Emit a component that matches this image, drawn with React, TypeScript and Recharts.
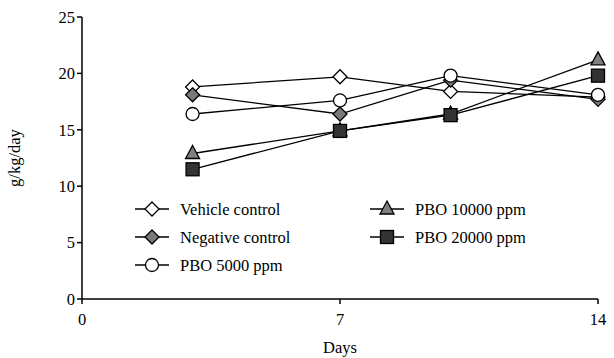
import { CartesianGrid, Label, Legend, Line, LineChart, XAxis, YAxis } from "recharts";

const DAYS = [3, 7, 10, 14];
const VEHICLE = [18.8, 19.7, 18.4, 17.9];
const NEGATIVE = [18.1, 16.4, 19.4, 17.7];
const PBO_5000 = [16.4, 17.6, 19.8, 18.1];
const PBO_10000 = [12.9, 14.9, 16.4, 21.2];
const PBO_20000 = [11.5, 14.9, 16.3, 19.8];

const X_TICKS = [0, 7, 14];
const Y_TICKS = [0, 5, 10, 15, 20, 25];

const SERIES = [
  { key: "vehicle", name: "Vehicle control", shape: "diamond", fill: "#ffffff", values: VEHICLE },
  { key: "negative", name: "Negative control", shape: "diamond", fill: "#7a7a7a", values: NEGATIVE },
  { key: "pbo5000", name: "PBO 5000 ppm", shape: "circle", fill: "#ffffff", values: PBO_5000 },
  { key: "pbo10000", name: "PBO 10000 ppm", shape: "triangle", fill: "#808080", values: PBO_10000 },
  { key: "pbo20000", name: "PBO 20000 ppm", shape: "square", fill: "#333333", values: PBO_20000 },
];

const data = DAYS.map((day, i) => {
  const row: Record<string, number> = { day };
  SERIES.forEach((s) => (row[s.key] = s.values[i]));
  return row;
});

const FONT = "'Liberation Serif', 'Times New Roman', serif";
const FS = 16.5;

function Marker({ shape, fill, cx, cy }: { shape: string; fill: string; cx: number; cy: number }) {
  const common = { fill, stroke: "#000", strokeWidth: 1.3 };
  if (shape === "diamond") {
    const r = 7;
    return <polygon points={`${cx},${cy - r} ${cx + r},${cy} ${cx},${cy + r} ${cx - r},${cy}`} {...common} />;
  }
  if (shape === "circle") return <circle cx={cx} cy={cy} r={6.5} {...common} />;
  if (shape === "triangle") {
    return <polygon points={`${cx},${cy - 8} ${cx + 7},${cy + 5} ${cx - 7},${cy + 5}`} {...common} />;
  }
  return <rect x={cx - 6.5} y={cy - 6.5} width={13} height={13} {...common} />;
}

const LEGEND_POS: Record<string, { x: number; y: number }> = {
  vehicle: { x: 0, y: 14 },
  negative: { x: 0, y: 42 },
  pbo5000: { x: 0, y: 70 },
  pbo10000: { x: 235, y: 14 },
  pbo20000: { x: 235, y: 42 },
};

function renderLegend() {
  return (
    <svg width={420} height={90} style={{ display: "block" }}>
      {SERIES.map((s) => {
        const p = LEGEND_POS[s.key];
        return (
          <g key={s.key}>
            <line x1={p.x} x2={p.x + 34} y1={p.y} y2={p.y} stroke="#000" strokeWidth={1.3} />
            <Marker shape={s.shape} fill={s.fill} cx={p.x + 17} cy={p.y} />
            <text x={p.x + 45} y={p.y + 5.5} fontFamily={FONT} fontSize={FS} fill="#000">
              {s.name}
            </text>
          </g>
        );
      })}
    </svg>
  );
}

export default function App() {
  return (
    <div style={{ position: "absolute", left: 0, top: 0, background: "#fff" }}>
      <LineChart width={614} height={358} data={data} margin={{ top: 17, right: 16, bottom: 0, left: 0 }}>
        <CartesianGrid stroke="none" />
        <XAxis
          dataKey="day"
          type="number"
          domain={[0, 14]}
          ticks={X_TICKS}
          height={59}
          stroke="#000"
          strokeWidth={1.5}
          tickSize={5}
          tickMargin={9}
          tick={{ fill: "#000", fontSize: FS, fontFamily: FONT }}
        >
          <Label value="Days" position="insideBottom" offset={5} fill="#000" fontSize={FS} fontFamily={FONT} />
        </XAxis>
        <YAxis
          type="number"
          domain={[0, 25]}
          ticks={Y_TICKS}
          width={82}
          stroke="#000"
          strokeWidth={1.5}
          tickSize={5}
          tick={{ fill: "#000", fontSize: FS, fontFamily: FONT }}
        >
          <Label
            value="g/kg/day"
            angle={-90}
            position="insideLeft"
            offset={14}
            style={{ textAnchor: "middle" }}
            fill="#000"
            fontSize={FS}
            fontFamily={FONT}
          />
        </YAxis>
        <Legend
          layout="vertical"
          align="center"
          verticalAlign="middle"
          wrapperStyle={{ left: 135, top: 195, width: 420 }}
          content={renderLegend}
        />
        {SERIES.map((s) => (
          <Line
            key={s.key}
            dataKey={s.key}
            name={s.name}
            stroke="#000"
            strokeWidth={1.3}
            isAnimationActive={false}
            dot={(props: any) => (
              <Marker key={`${s.key}-${props.index}`} shape={s.shape} fill={s.fill} cx={props.cx} cy={props.cy} />
            )}
            activeDot={false}
          />
        ))}
      </LineChart>
    </div>
  );
}
